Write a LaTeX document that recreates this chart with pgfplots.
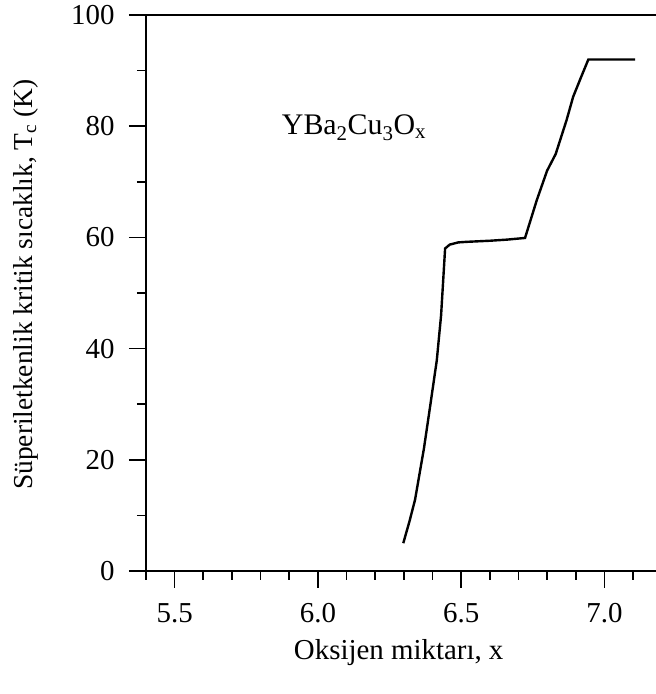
\documentclass[border=0pt]{standalone}
\usepackage{pgfplots}
\pgfplotsset{compat=1.18}
\usepackage{fontspec}
\setmainfont{Liberation Serif}
\begin{document}
\begin{tikzpicture}
\begin{axis}[
  scale only axis, width=515.7bp, height=556bp,
  xmin=5.4, xmax=7.2, ymin=0, ymax=100,
  xtick pos=bottom, ytick pos=left,
  tick align=outside,
  xtick={5.5,6.0,6.5,7.0},
  minor xtick={5.4,5.6,5.7,5.8,5.9,6.1,6.2,6.3,6.4,6.6,6.7,6.8,6.9,7.1},
  ytick={0,20,40,60,80,100},
  minor ytick={10,30,50,70,90},
  major tick length=17bp, minor tick length=9bp,
  every tick/.style={black, line width=1.6bp},
  axis line style={line width=1.8bp},
  /pgf/number format/assume math mode=true,
  xticklabel style={yshift=-12bp, /pgf/number format/.cd, fixed, fixed zerofill, precision=1},
  yticklabel style={xshift=-11bp},
  ticklabel style={font=\fontsize{29}{33}\selectfont},
  xlabel style={font=\fontsize{29}{33}\selectfont},
  ylabel style={font=\fontsize{27.5}{31}\selectfont},
  xlabel={Oksijen miktarı, x},
  ylabel={Süperiletkenlik kritik sıcaklık, T\textsubscript{c} (K)},
  xlabel style={at={(axis description cs:0.49,-0.146)}, anchor=center},
  ylabel style={at={(axis description cs:-0.233,0.515)}, anchor=center, rotate=0},
  clip=false,
]
\addplot[black, line width=2.4bp] coordinates {
(6.298,5.0) (6.32,9) (6.339,12.8) (6.37,22) (6.39,29) (6.415,37.9) (6.43,46) (6.444,58.0)
(6.46,58.7) (6.49,59.1) (6.519,59.2) (6.56,59.3) (6.601,59.4) (6.66,59.6) (6.723,59.9)
(6.764,66.7) (6.80,72) (6.83,75) (6.868,81.1) (6.891,85.3) (6.92,89) (6.944,92.0) (7.107,92.0)
};
\node[font=\fontsize{30}{34}\selectfont, anchor=center] at (axis cs:6.126,79.7) {YBa\textsubscript{2}Cu\textsubscript{3}O\textsubscript{x}};
\coordinate (SW) at (rel axis cs:0,0);
\end{axis}
\pgfresetboundingbox
\path (SW) ++(-146bp,-123bp) rectangle ++(656bp,694bp);
\end{tikzpicture}
\end{document}
